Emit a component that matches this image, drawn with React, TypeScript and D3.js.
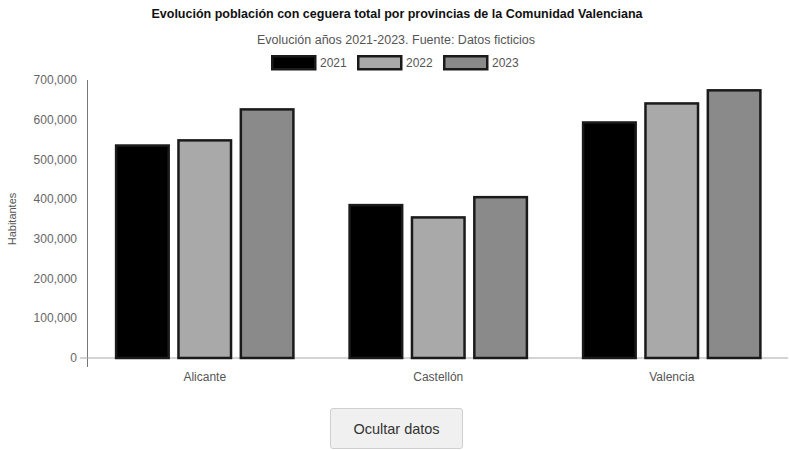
import React, { useState } from "react";
import * as d3 from "d3";

const provinces = ["Alicante", "Castellón", "Valencia"];
const years = ["2021", "2022", "2023"];
const values2021 = [535000, 385000, 593000];
const values2022 = [548000, 354000, 641000];
const values2023 = [626000, 405000, 674000];
const yTicks = [0, 100000, 200000, 300000, 400000, 500000, 600000, 700000];
const yearFills = ["#000000", "#a9a9a9", "#8a8a8a"];

const W = 789;
const H = 450;
const FONT = "'Liberation Sans', Arial, Helvetica, sans-serif";

export default function App() {
  const [visible, setVisible] = useState(true);
  const series = [values2021, values2022, values2023];

  const x0 = d3
    .scaleBand<string>()
    .domain(provinces)
    .range([88, 788.5])
    .paddingInner(0.23)
    .paddingOuter(0.115);
  const x1 = d3
    .scaleBand<string>()
    .domain(years)
    .range([0, x0.bandwidth()])
    .paddingInner(0.117)
    .paddingOuter(0);
  const y = d3.scaleLinear().domain([0, 700000]).range([358, 80]);
  const fmt = d3.format(",");
  const sw = 2.5;

  const legendX = d3.scaleBand<string>().domain(years).range([271, 529]);

  return (
    <div style={{ position: "fixed", left: 0, top: 0, width: W, height: H, background: "#fff" }}>
      <svg width={W} height={H} style={{ position: "absolute", left: 0, top: 0 }} fontFamily={FONT}>
        <text x={397} y={18} textAnchor="middle" fontSize={12.5} fontWeight="bold" fill="#111">
          Evolución población con ceguera total por provincias de la Comunidad Valenciana
        </text>
        <text x={396} y={44} textAnchor="middle" fontSize={12.5} fill="#555">
          Evolución años 2021-2023. Fuente: Datos ficticios
        </text>

        {years.map((yr, i) => (
          <g key={yr} transform={`translate(${legendX(yr)},0)`}>
            <rect x={1.25} y={56.25} width={43} height={13} fill={yearFills[i]} stroke="#1a1a1a" strokeWidth={sw} />
            <text x={49} y={67} fontSize={12} fill="#555">
              {yr}
            </text>
          </g>
        ))}

        {/* y axis */}
        <line x1={87.5} x2={87.5} y1={80} y2={367} stroke="#777" strokeWidth={1} />
        <line x1={80} x2={788} y1={358} y2={358} stroke="#aaa" strokeWidth={1.2} />
        {yTicks.map((t) => (
          <text key={t} x={77} y={y(t)} dy="0.35em" textAnchor="end" fontSize={12} fill="#666">
            {fmt(t)}
          </text>
        ))}
        <text
          transform={`translate(16,${(y(0) + y(700000)) / 2}) rotate(-90)`}
          textAnchor="middle"
          fontSize={11}
          fill="#555"
        >
          Habitantes
        </text>

        {/* bars */}
        {visible &&
          provinces.map((p, pi) => (
            <g key={p} transform={`translate(${x0(p)},0)`}>
              {years.map((yr, yi) => {
                const v = series[yi][pi];
                return (
                  <rect
                    key={yr}
                    x={(x1(yr) as number) + sw / 2}
                    y={y(v)}
                    width={x1.bandwidth() - sw}
                    height={y(0) - y(v)}
                    fill={yearFills[yi]}
                    stroke="#1a1a1a"
                    strokeWidth={sw}
                  />
                );
              })}
            </g>
          ))}

        {provinces.map((p) => (
          <text
            key={p}
            x={(x0(p) as number) + x0.bandwidth() / 2}
            y={381}
            textAnchor="middle"
            fontSize={12}
            fill="#555"
          >
            {p}
          </text>
        ))}
      </svg>
      <button
        onClick={() => setVisible(!visible)}
        style={{
          position: "absolute",
          left: 330,
          top: 408,
          width: 133,
          height: 41,
          background: "#f0f0f0",
          border: "1px solid #cfcfcf",
          borderRadius: 3,
          fontFamily: FONT,
          fontSize: 14.5,
          color: "#333",
        }}
      >
        Ocultar datos
      </button>
    </div>
  );
}
